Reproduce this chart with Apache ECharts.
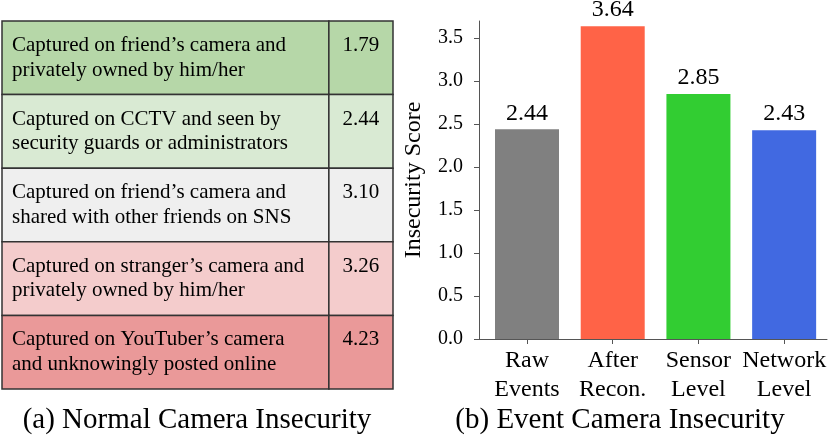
<!DOCTYPE html>
<html>
<head>
<meta charset="utf-8">
<script src="https://cdn.jsdelivr.net/npm/echarts@6/dist/echarts.min.js"></script>
<style>
html, body { margin: 0; padding: 0; background: #fff; }
#main { width: 830px; height: 436px; }
</style>
</head>
<body>
<div id="main"></div>
<script>
// (a) table rows
var scenarioText = [
	'Captured on friend\u2019s camera and\nprivately owned by him/her',
	'Captured on CCTV and seen by\nsecurity guards or administrators',
	'Captured on friend\u2019s camera and\nshared with other friends on SNS',
	'Captured on stranger\u2019s camera and\nprivately owned by him/her',
	'Captured on YouTuber\u2019s camera\nand unknowingly posted online'
];
var scenarioScore = [1.79, 2.44, 3.10, 3.26, 4.23];
var rowColors = ['#b6d7a8', '#d9ead3', '#efefef', '#f4cccc', '#ea9999'];

// (b) bar chart
var categories = ['Raw\nEvents', 'After\nRecon.', 'Sensor\nLevel', 'Network\nLevel'];
var scores = [2.44, 3.64, 2.85, 2.43];
var barColors = ['#808080', '#ff6347', '#32cd32', '#4169e1'];
var yTicks = [0, 0.5, 1.0, 1.5, 2.0, 2.5, 3.0, 3.5];

var serif = '"Liberation Serif", "Times New Roman", serif';
var mychart = echarts.init(document.getElementById('main'));

var tableData = scenarioText.map(function (t, i) { return [0, i]; });
var barData = scores.map(function (v, i) {
	return { value: [i, v], itemStyle: { color: barColors[i] } };
});

var option = {
	animation: false,
	backgroundColor: '#fff',
	title: [{
		text: '(a) Normal Camera Insecurity',
		left: 197, top: 406, textAlign: 'center', padding: 0,
		textStyle: { fontFamily: serif, fontSize: 29, fontWeight: 'normal', color: '#000' }
	}, {
		text: '(b) Event Camera Insecurity',
		left: 620, top: 406, textAlign: 'center', padding: 0,
		textStyle: { fontFamily: serif, fontSize: 29, fontWeight: 'normal', color: '#000' }
	}],
	grid: [
		{ left: 479, top: 21, right: 3, bottom: 97 },
		{ left: 2, top: 21, width: 391, height: 368 }
	],
	xAxis: [{
		gridIndex: 0,
		type: 'value',
		min: -0.56,
		max: 3.5,
		splitLine: { show: false },
		axisLine: { show: true, onZero: false, lineStyle: { color: '#555', width: 1 } },
		axisTick: { show: true, length: 5, customValues: [0, 1, 2, 3], lineStyle: { color: '#555' } },
		axisLabel: {
			customValues: [0, 1, 2, 3],
			formatter: function (v) { return categories[Math.round(v)]; },
			fontFamily: serif, fontSize: 24, color: '#000', lineHeight: 29, margin: 7
		}
	}, {
		gridIndex: 1, type: 'value', min: 0, max: 1, show: false
	}],
	yAxis: [{
		gridIndex: 0,
		type: 'value',
		min: 0,
		max: 3.7,
		name: 'Insecurity Score',
		nameLocation: 'middle',
		nameGap: 53,
		nameTextStyle: { fontFamily: serif, fontSize: 24, color: '#000' },
		splitLine: { show: false },
		axisLine: { show: true, onZero: false, lineStyle: { color: '#555', width: 1 } },
		axisTick: { show: true, length: 5, customValues: yTicks, lineStyle: { color: '#555' } },
		axisLabel: {
			customValues: yTicks,
			formatter: function (v) { return v.toFixed(1); },
			fontFamily: serif, fontSize: 20, color: '#000', margin: 16
		}
	}, {
		gridIndex: 1, type: 'category', inverse: true, show: false,
		data: scenarioText.map(function (t, i) { return i; })
	}],
	series: [{
		type: 'bar',
		xAxisIndex: 0, yAxisIndex: 0,
		barWidth: 64,
		data: barData,
		label: {
			show: true, position: 'top', distance: 4,
			formatter: function (p) { return p.value[1].toFixed(2); },
			fontFamily: serif, fontSize: 24, color: '#000'
		}
	}, {
		type: 'custom',
		xAxisIndex: 1, yAxisIndex: 1,
		encode: { x: 0, y: 1 },
		data: tableData,
		renderItem: function (params, api) {
			var i = api.value(1);
			var p = api.coord([0, i]);
			var s = api.size([1, 1]);
			var w = s[0], h = s[1];
			var x0 = p[0], y0 = p[1] - h / 2;
			var split = x0 + w * 0.836;
			return {
				type: 'group',
				children: [{
					type: 'rect',
					shape: { x: x0, y: y0, width: split - x0, height: h },
					style: { fill: rowColors[i], stroke: '#333', lineWidth: 1.5 }
				}, {
					type: 'rect',
					shape: { x: split, y: y0, width: x0 + w - split, height: h },
					style: { fill: rowColors[i], stroke: '#333', lineWidth: 1.5 }
				}, {
					type: 'text',
					style: {
						text: scenarioText[i], x: x0 + 10, y: p[1],
						align: 'left', verticalAlign: 'middle', lineHeight: 24.5,
						fontSize: 21, fontFamily: serif, fill: '#000'
					}
				}, {
					type: 'text',
					style: {
						text: scenarioScore[i].toFixed(2), x: (split + x0 + w) / 2, y: p[1] - 12.25,
						align: 'center', verticalAlign: 'middle',
						fontSize: 21, fontFamily: serif, fill: '#000'
					}
				}]
			};
		}
	}]
};
mychart.setOption(option);
</script>
</body>
</html>
